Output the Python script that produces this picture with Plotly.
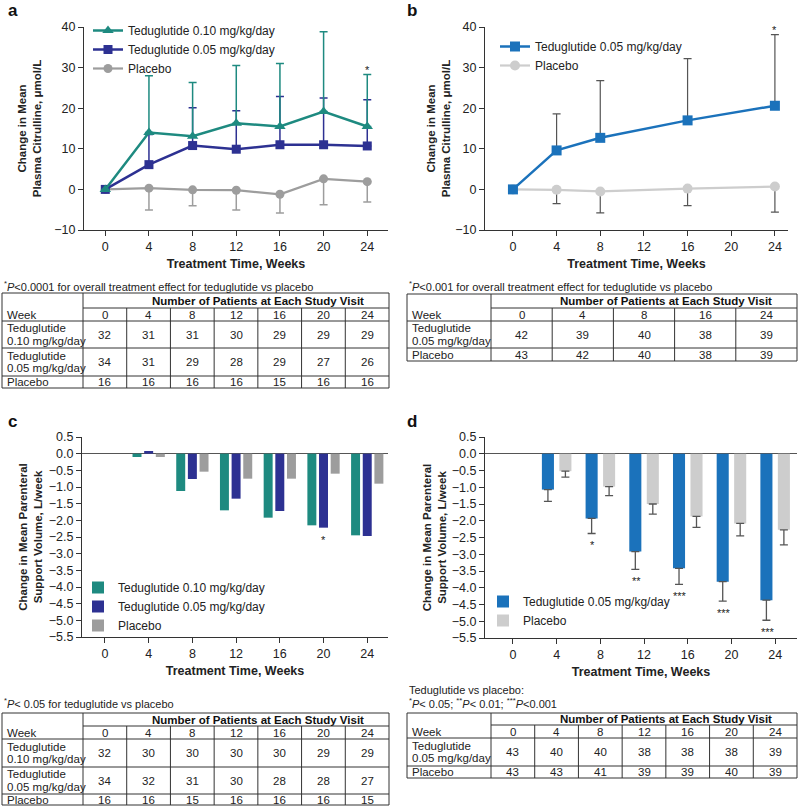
import plotly.graph_objects as go

# ---------------- data ----------------
weeks_a = [0, 4, 8, 12, 16, 20, 24]
a_ted10 = [0, 14.0, 13.1, 16.3, 15.5, 19.2, 15.5]
a_ted10_err = [0, 14.0, 13.2, 14.2, 15.5, 19.6, 12.8]
a_ted05 = [0, 6.1, 10.8, 9.9, 11.0, 11.0, 10.7]
a_ted05_err = [0, 7.4, 9.3, 9.5, 11.9, 11.5, 11.4]
a_pbo = [0, 0.3, -0.1, -0.2, -1.2, 2.6, 1.9]
a_pbo_err = [0, 5.4, 3.9, 4.9, 4.6, 6.4, 5.0]
a_sig = ["", "", "", "", "", "", "*"]

weeks_b = [0, 4, 8, 16, 24]
b_ted05 = [0, 9.6, 12.7, 17.0, 20.6]
b_ted05_err = [0, 9.0, 14.1, 15.2, 17.5]
b_pbo = [0, -0.1, -0.5, 0.2, 0.7]
b_pbo_err = [0, 3.4, 5.3, 4.2, 6.3]
b_sig = ["", "", "", "", "*"]

weeks_c = [4, 8, 12, 16, 20, 24]
c_ted10 = [-0.10, -1.12, -1.70, -1.92, -2.15, -2.45]
c_ted05 = [0.08, -0.76, -1.35, -1.72, -2.22, -2.47]
c_pbo = [-0.10, -0.54, -0.75, -0.75, -0.60, -0.90]
c_sig = ["", "", "", "", "*", ""]

weeks_d = [4, 8, 12, 16, 20, 24]
d_ted05 = [-1.07, -1.93, -2.92, -3.42, -3.82, -4.37]
d_ted05_err = [0.35, 0.45, 0.53, 0.48, 0.58, 0.60]
d_pbo = [-0.52, -0.98, -1.50, -1.87, -2.08, -2.27]
d_pbo_err = [0.18, 0.27, 0.30, 0.33, 0.37, 0.45]
d_sig = ["", "*", "**", "***", "***", "***"]

tick_weeks = [0, 4, 8, 12, 16, 20, 24]

# tables
tab_a_weeks = ["0", "4", "8", "12", "16", "20", "24"]
tab_a_rows = ["Teduglutide<br>0.10 mg/kg/day", "Teduglutide<br>0.05 mg/kg/day", "Placebo"]
tab_a_vals = [[32, 31, 31, 30, 29, 29, 29],
              [34, 31, 29, 28, 29, 27, 26],
              [16, 16, 16, 16, 15, 16, 16]]
tab_b_weeks = ["0", "4", "8", "16", "24"]
tab_b_rows = ["Teduglutide<br>0.05 mg/kg/day", "Placebo"]
tab_b_vals = [[42, 39, 40, 38, 39],
              [43, 42, 40, 38, 39]]
tab_c_weeks = ["0", "4", "8", "12", "16", "20", "24"]
tab_c_rows = ["Teduglutide<br>0.10 mg/kg/day", "Teduglutide<br>0.05 mg/kg/day", "Placebo"]
tab_c_vals = [[32, 30, 30, 30, 30, 29, 29],
              [34, 32, 31, 30, 28, 28, 27],
              [16, 16, 15, 16, 16, 16, 15]]
tab_d_weeks = ["0", "4", "8", "12", "16", "20", "24"]
tab_d_rows = ["Teduglutide<br>0.05 mg/kg/day", "Placebo"]
tab_d_vals = [[43, 40, 40, 38, 38, 38, 39],
              [43, 43, 41, 39, 39, 40, 39]]

# ---------------- style ----------------
W, H = 798, 806
FONT = "Liberation Sans, Arial, sans-serif"
TEAL = "#1e8a80"
NAVY = "#2d3192"
GRAY = "#9d9d9d"
BLUE = "#1b72bb"
LGRAY = "#cdcdcd"
DARK = "#555555"
AX = "#333333"


def px(x):
    return x / W


def py(y):
    return 1 - y / H


fig = go.Figure()

# ---- panel a ----
fig.add_trace(go.Scatter(
    x=weeks_a, y=a_pbo, name="Placebo", mode="lines+markers",
    line=dict(color=GRAY, width=2.2), marker=dict(symbol="circle", size=9, color=GRAY),
    error_y=dict(type="data", symmetric=False, array=[0] * len(a_pbo), arrayminus=a_pbo_err,
                 color=GRAY, thickness=1.5, width=4),
    xaxis="x", yaxis="y", legend="legend", legendrank=3))
fig.add_trace(go.Scatter(
    x=weeks_a, y=a_ted05, name="Teduglutide 0.05 mg/kg/day", mode="lines+markers",
    line=dict(color=NAVY, width=2.5), marker=dict(symbol="square", size=9, color=NAVY),
    error_y=dict(type="data", symmetric=False, array=a_ted05_err, arrayminus=[0] * len(a_ted05),
                 color=NAVY, thickness=1.5, width=4),
    xaxis="x", yaxis="y", legend="legend", legendrank=2))
fig.add_trace(go.Scatter(
    x=weeks_a, y=a_ted10, name="Teduglutide 0.10 mg/kg/day", mode="lines+markers",
    line=dict(color=TEAL, width=2.5), marker=dict(symbol="triangle-up", size=10, color=TEAL),
    error_y=dict(type="data", symmetric=False, array=a_ted10_err, arrayminus=[0] * len(a_ted10),
                 color=TEAL, thickness=1.5, width=4),
    xaxis="x", yaxis="y", legend="legend", legendrank=1))

# ---- panel b ----
fig.add_trace(go.Scatter(
    x=weeks_b, y=b_pbo, name="Placebo", mode="lines+markers",
    line=dict(color=LGRAY, width=2.2), marker=dict(symbol="circle", size=10, color=LGRAY),
    error_y=dict(type="data", symmetric=False, array=[0] * len(b_pbo), arrayminus=b_pbo_err,
                 color=DARK, thickness=1.2, width=4),
    xaxis="x2", yaxis="y2", legend="legend2", legendrank=2))
fig.add_trace(go.Scatter(
    x=weeks_b, y=b_ted05, name="Teduglutide 0.05 mg/kg/day", mode="lines+markers",
    line=dict(color=BLUE, width=2.5), marker=dict(symbol="square", size=10, color=BLUE),
    error_y=dict(type="data", symmetric=False, array=b_ted05_err, arrayminus=[0] * len(b_ted05),
                 color=DARK, thickness=1.2, width=4),
    xaxis="x2", yaxis="y2", legend="legend2", legendrank=1))

# ---- panel c ----
for name, vals, col in [("Teduglutide 0.10 mg/kg/day", c_ted10, TEAL),
                        ("Teduglutide 0.05 mg/kg/day", c_ted05, NAVY),
                        ("Placebo", c_pbo, GRAY)]:
    fig.add_trace(go.Bar(x=weeks_c, y=vals, name=name, marker=dict(color=col, line=dict(width=0)),
                         xaxis="x3", yaxis="y3", legend="legend3", offsetgroup=name + "c"))

# ---- panel d ----
fig.add_trace(go.Bar(x=weeks_d, y=d_ted05, name="Teduglutide 0.05 mg/kg/day",
                     marker=dict(color=BLUE, line=dict(width=0)),
                     error_y=dict(type="data", symmetric=False, array=[0] * len(d_ted05),
                                  arrayminus=d_ted05_err, color=DARK, thickness=1.3, width=4),
                     xaxis="x4", yaxis="y4", legend="legend4", offsetgroup="d1"))
fig.add_trace(go.Bar(x=weeks_d, y=d_pbo, name="Placebo",
                     marker=dict(color=LGRAY, line=dict(width=0)),
                     error_y=dict(type="data", symmetric=False, array=[0] * len(d_pbo),
                                  arrayminus=d_pbo_err, color=DARK, thickness=1.3, width=4),
                     xaxis="x4", yaxis="y4", legend="legend4", offsetgroup="d2"))

annotations = []
shapes = []
C = dict(xanchor="center", yanchor="middle")

# significance markers
for w, v, e, s in zip(weeks_a, a_ted10, a_ted10_err, a_sig):
    if s:
        annotations.append(dict(x=w, y=v + e, xref="x", yref="y", text=s, showarrow=False,
                                xanchor="center", yanchor="bottom", yshift=-3,
                                font=dict(size=11, color="#222")))
for w, v, e, s in zip(weeks_b, b_ted05, b_ted05_err, b_sig):
    if s:
        annotations.append(dict(x=w, y=v + e, xref="x2", yref="y2", text=s, showarrow=False,
                                xanchor="center", yanchor="bottom", yshift=-3,
                                font=dict(size=11, color="#222")))
for w, v, s in zip(weeks_c, c_ted05, c_sig):
    if s:
        annotations.append(dict(x=w, y=v, xref="x3", yref="y3", text=s, showarrow=False,
                                xanchor="center", yanchor="top", yshift=-4,
                                font=dict(size=11, color="#222")))
D_BARGAP = 0.31
d_slot = 4 * (1 - D_BARGAP) / 2
for w, v, e, s in zip(weeks_d, d_ted05, d_ted05_err, d_sig):
    if s:
        annotations.append(dict(x=w - d_slot / 2, y=v - e, xref="x4", yref="y4", text=s,
                                showarrow=False, xanchor="center", yanchor="top", yshift=-4,
                                font=dict(size=11, color="#222")))

# panel letters
for letter, x, y in [("a", 6, 11), ("b", 405, 11), ("c", 6, 421), ("d", 405, 421)]:
    annotations.append(dict(x=px(x), y=py(y), xref="paper", yref="paper", text="<b>%s</b>" % letter,
                            showarrow=False, xanchor="left", yanchor="middle",
                            font=dict(size=17, color="#111", family=FONT)))

# footnotes
foot = dict(xref="paper", yref="paper", showarrow=False, xanchor="left", yanchor="middle",
            font=dict(size=11, color="#222", family=FONT))
annotations.append(dict(x=px(2), y=py(286),
                        text="<sup>*</sup><i>P</i>&lt;0.0001 for overall treatment effect for teduglutide vs placebo", **foot))
annotations.append(dict(x=px(407), y=py(286),
                        text="<sup>*</sup><i>P</i>&lt;0.001 for overall treatment effect for teduglutide vs placebo", **foot))
annotations.append(dict(x=px(2), y=py(703),
                        text="<sup>*</sup><i>P</i>&lt; 0.05 for teduglutide vs placebo", **foot))
annotations.append(dict(x=px(407), y=py(690), text="Teduglutide vs placebo:", **foot))
annotations.append(dict(x=px(407), y=py(703),
                        text="<sup>*</sup><i>P</i>&lt; 0.05; <sup>**</sup><i>P</i>&lt; 0.01; <sup>***</sup><i>P</i>&lt;0.001", **foot))


def draw_table(x0, x1, xc, edges, weeks, rows, vals):
    lc = dict(color="#333", width=1)
    ncol = len(weeks)
    cw = (x1 - xc) / ncol
    top, bot = edges[0], edges[-1]
    shapes.append(dict(type="rect", xref="paper", yref="paper", x0=px(x0), x1=px(x1),
                       y0=py(bot), y1=py(top), line=lc))
    for e in edges[1:-1]:
        x_start = xc if e == edges[1] else x0
        shapes.append(dict(type="line", xref="paper", yref="paper", x0=px(x_start), x1=px(x1),
                           y0=py(e), y1=py(e), line=lc))
    shapes.append(dict(type="line", xref="paper", yref="paper", x0=px(xc), x1=px(xc),
                       y0=py(bot), y1=py(top), line=lc))
    for i in range(1, ncol):
        xx = xc + i * cw
        shapes.append(dict(type="line", xref="paper", yref="paper", x0=px(xx), x1=px(xx),
                           y0=py(bot), y1=py(edges[1]), line=lc))
    tf = dict(size=11.5, color="#222", family=FONT)
    annotations.append(dict(x=px(x1 - 23), y=py((edges[0] + edges[1]) / 2), xref="paper",
                            yref="paper", text="<b>Number of Patients at Each Study Visit</b>",
                            showarrow=False, xanchor="right", yanchor="middle",
                            font=dict(size=11.5, color="#111", family=FONT)))
    annotations.append(dict(x=px(x0 + 3), y=py((edges[1] + edges[2]) / 2), xref="paper", yref="paper",
                            text="Week", showarrow=False, xanchor="left", yanchor="middle", font=tf))
    for i, wk in enumerate(weeks):
        annotations.append(dict(x=px(xc + (i + 0.5) * cw), y=py((edges[1] + edges[2]) / 2),
                                xref="paper", yref="paper", text=wk, showarrow=False, font=tf, **C))
    for r, (lab, rv) in enumerate(zip(rows, vals)):
        ym = (edges[2 + r] + edges[3 + r]) / 2
        lines = lab.split("<br>")
        n = len(lines)
        for k, ln in enumerate(lines):
            annotations.append(dict(x=px(x0 + 3), y=py(ym + (k - (n - 1) / 2) * 12.5), xref="paper",
                                    yref="paper", text=ln, showarrow=False, xanchor="left",
                                    yanchor="middle", font=tf))
        for i, v in enumerate(rv):
            annotations.append(dict(x=px(xc + (i + 0.5) * cw), y=py(ym), xref="paper", yref="paper",
                                    text=str(v), showarrow=False, font=tf, **C))


draw_table(2, 389, 83, [293, 308, 321, 348, 376, 388], tab_a_weeks, tab_a_rows, tab_a_vals)
draw_table(407, 797, 491, [294, 308, 321, 348, 361], tab_b_weeks, tab_b_rows, tab_b_vals)
draw_table(2, 389, 83, [713, 726, 739, 767, 794, 805], tab_c_weeks, tab_c_rows, tab_c_vals)
draw_table(407, 797, 491, [713, 725, 738, 766, 778], tab_d_weeks, tab_d_rows, tab_d_vals)

tickfont = dict(size=12.5, color="#222", family=FONT)
titlefont = dict(size=12.5, color="#222", family=FONT)


def xax(dom, rng, anchor):
    return dict(domain=[px(dom[0]), px(dom[1])], range=rng, anchor=anchor,
                tickvals=tick_weeks, ticks="outside", ticklen=5, tickcolor=AX,
                showline=True, linecolor=AX, linewidth=1, showgrid=False, zeroline=False,
                tickfont=tickfont, automargin=False,
                title=dict(text="<b>Treatment Time, Weeks</b>", font=titlefont, standoff=6))


def yax(dom, rng, anchor, dtick, fmt, title, zl, standoff):
    return dict(domain=[py(dom[1]), py(dom[0])], range=rng, anchor=anchor, dtick=dtick,
                tick0=0, tickformat=fmt, ticks="outside", ticklen=5, tickcolor=AX,
                showline=True, linecolor=AX, linewidth=1, showgrid=False,
                zeroline=zl, zerolinecolor="#555", zerolinewidth=1, automargin=False,
                tickfont=tickfont, title=dict(text=title, font=dict(size=11.5, color="#222", family=FONT),
                                              standoff=standoff))


legfont = dict(size=12, color="#222", family=FONT)
fig.update_layout(
    width=W, height=H, margin=dict(l=0, r=0, t=0, b=0, pad=0, autoexpand=False),
    paper_bgcolor="white", plot_bgcolor="white",
    font=dict(family=FONT, color="#222"),
    barmode="group",
    xaxis=xax((84, 388), [-1.95, 25.9], "y"),
    yaxis=yax((27, 230), [-10, 40], "x", 10, "d",
              "<b>Change in Mean<br>Plasma Citrulline, μmol/L</b>", False, 10),
    xaxis2=xax((485, 788), [-2.56, 25.2], "y2"),
    yaxis2=yax((27, 230), [-10, 40], "x2", 10, "d",
               "<b>Change in Mean<br>Plasma Citrulline, μmol/L</b>", False, 2),
    xaxis3=xax((82, 388), [-2.1, 25.9], "y3"),
    yaxis3=yax((437, 637), [-5.5, 0.5], "x3", 0.5, ".1f",
               "<b>Change in Mean Parenteral<br>Support Volume, L/week</b>", True, 3),
    xaxis4=xax((485, 797), [-2.56, 26.0], "y4"),
    yaxis4=yax((437, 638), [-5.5, 0.5], "x4", 0.5, ".1f",
               "<b>Change in Mean Parenteral<br>Support Volume, L/week</b>", True, 2),
    legend=dict(x=px(88), y=py(16), xanchor="left", yanchor="top", font=legfont,
                bgcolor="rgba(0,0,0,0)", tracegroupgap=0, itemwidth=30),
    legend2=dict(x=px(495), y=py(32), xanchor="left", yanchor="top", font=legfont,
                 bgcolor="rgba(0,0,0,0)", tracegroupgap=0, itemwidth=30, traceorder="normal"),
    legend3=dict(x=px(78), y=py(573), xanchor="left", yanchor="top", font=legfont,
                 bgcolor="rgba(0,0,0,0)", tracegroupgap=0, itemwidth=30),
    legend4=dict(x=px(483), y=py(587), xanchor="left", yanchor="top", font=legfont,
                 bgcolor="rgba(0,0,0,0)", tracegroupgap=0, itemwidth=30),
    annotations=annotations, shapes=shapes,
)
fig.update_layout(bargap=0.2, bargroupgap=0.23)
fig.update_traces(selector=dict(type="bar", xaxis="x4"), width=4 * (1 - D_BARGAP) / 2 * 0.8)
fig.write_html("out.html", config={"displayModeBar": False},
               post_script="document.body.style.margin='0';")
